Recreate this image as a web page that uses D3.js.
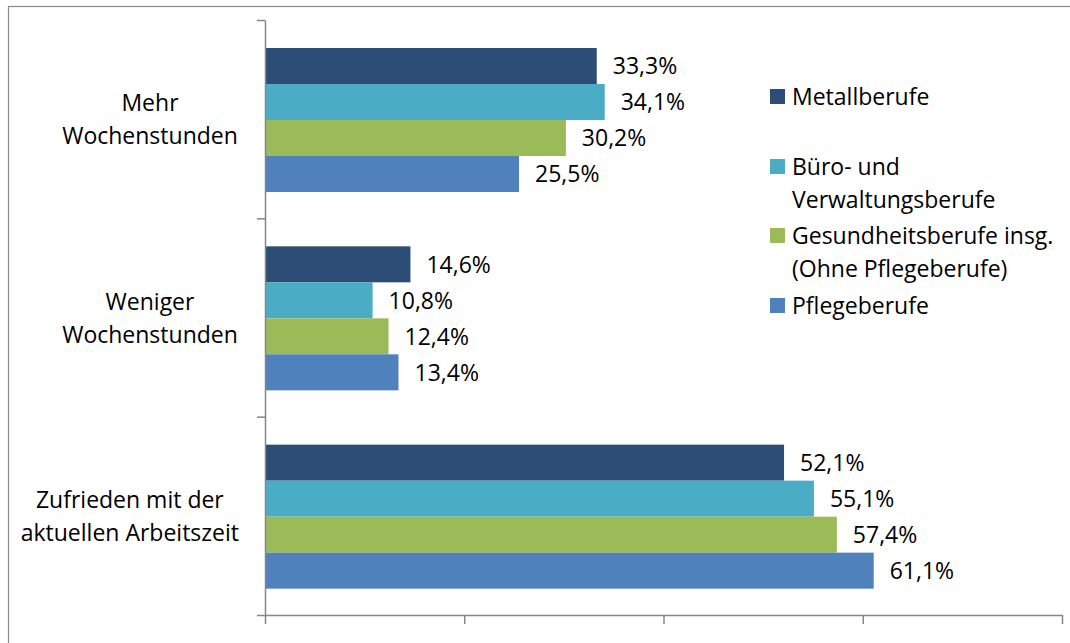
<!DOCTYPE html>
<html><head><meta charset="utf-8">
<script src="https://cdn.jsdelivr.net/npm/d3@7"></script>
<style>
html,body{margin:0;padding:0;background:#fff;}
svg{display:block;font-family:"Open Sans",sans-serif;}
</style></head>
<body>
<svg id="c" width="1070" height="643"></svg>
<script>
const categories = [["Mehr","Wochenstunden"],["Weniger","Wochenstunden"],["Zufrieden mit der","aktuellen Arbeitszeit"]];
const series = [
  {name:["Metallberufe"], color:"#2C4D75"},
  {name:["Büro- und","Verwaltungsberufe"], color:"#4BACC6"},
  {name:["Gesundheitsberufe insg.","(Ohne Pflegeberufe)"], color:"#9BBB59"},
  {name:["Pflegeberufe"], color:"#4F81BD"}
];
const metall = [33.3, 14.6, 52.1];
const buero = [34.1, 10.8, 55.1];
const gesund = [30.2, 12.4, 57.4];
const pflege = [25.5, 13.4, 61.1];
const values = [metall, buero, gesund, pflege];
const xTicks = [0,20,40,60,80];

const svg = d3.select("#c");
const axisColor = "#868686";
const fs = 23;

svg.append("rect").attr("x",8.5).attr("y",6.5).attr("width",1100).attr("height",700)
  .attr("fill","none").attr("stroke","#8c8c8c").attr("stroke-width",1.2);

const x = d3.scaleLinear().domain([0,80]).range([265,1062]);
const catIdx = categories.map((d,i)=>i);
const y = d3.scaleBand().domain(catIdx).range([20,615]).padding(0);
const yInner = d3.scaleBand().domain(d3.range(series.length)).range([28, 172]);
const yLin = d3.scaleLinear().domain([0,categories.length]).range([20,615]);

// bars
series.forEach((s,si)=>{
  const g = svg.append("g");
  g.selectAll("rect").data(values[si]).join("rect")
    .attr("x", x(0))
    .attr("y", (d,i)=> y(i)+yInner(si))
    .attr("width", d=> x(d)-x(0))
    .attr("height", yInner.bandwidth())
    .attr("fill", s.color);
  g.selectAll("text").data(values[si]).join("text")
    .attr("x", d=> x(d)+16)
    .attr("y", (d,i)=> y(i)+yInner(si)+yInner.bandwidth()/2)
    .attr("dy","0.36em")
    .attr("font-size",fs)
    .attr("fill","#000")
    .text(d=> d.toFixed(1).replace(".",",")+"%");
});

// axes
const xAxis = d3.axisBottom(x).tickValues(xTicks).tickSize(9).tickSizeOuter(0).tickFormat("");
const xg = svg.append("g").attr("transform","translate(0,615)").call(xAxis);
const yAxis = d3.axisLeft(yLin).tickValues(d3.range(categories.length+1)).tickSize(8).tickSizeOuter(0).tickFormat("");
const yg = svg.append("g").attr("transform","translate(265,0)").call(yAxis);
[xg,yg].forEach(g=>{
  g.selectAll("path,line").attr("stroke",axisColor).attr("stroke-width",1.5);
});

// category labels (centered block, clamped to the right edge near the axis)
categories.forEach((lines,i)=>{
  const cy = y(i)+y.bandwidth()/2;
  const t = svg.append("text").attr("text-anchor","middle").attr("font-size",fs).attr("fill","#000");
  const spans = lines.map((l,li)=> t.append("tspan").attr("y", cy-8+li*33).text(l));
  const maxW = d3.max(spans, s=> s.node().getComputedTextLength());
  const cx = Math.min(150, 239 - maxW/2);
  spans.forEach(s=> s.attr("x", cx));
});

// legend
const legendTops = [89, 159, 228, 298];
series.forEach((s,si)=>{
  const top = legendTops[si];
  svg.append("rect").attr("x",770).attr("y",top).attr("width",15).attr("height",15).attr("fill",s.color);
  const t = svg.append("text").attr("font-size",fs).attr("fill","#000");
  s.name.forEach((l,li)=>{
    t.append("tspan").attr("x",792).attr("y", top+16+li*33).text(l);
  });
});
</script>
</body></html>
